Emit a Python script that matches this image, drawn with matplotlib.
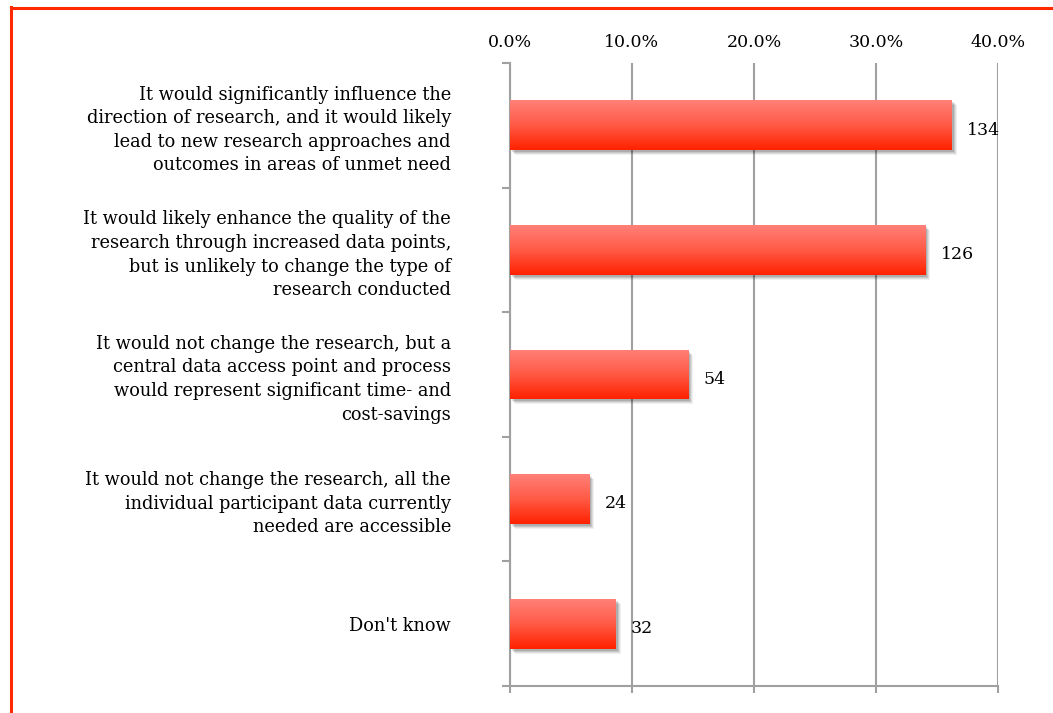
import numpy as np
import matplotlib
matplotlib.use("Agg")
import matplotlib.pyplot as plt
from matplotlib import transforms
from matplotlib.lines import Line2D
from matplotlib.colors import LinearSegmentedColormap

# Survey responses
categories = [
    "It would significantly influence the\ndirection of research, and it would likely\nlead to new research approaches and\noutcomes in areas of unmet need",
    "It would likely enhance the quality of the\nresearch through increased data points,\nbut is unlikely to change the type of\nresearch conducted",
    "It would not change the research, but a\ncentral data access point and process\nwould represent significant time- and\ncost-savings",
    "It would not change the research, all the\nindividual participant data currently\nneeded are accessible",
    "Don't know",
]
counts = [134, 126, 54, 24, 32]
x_ticks = [0, 10, 20, 30, 40]
x_tick_labels = ["0.0%", "10.0%", "20.0%", "30.0%", "40.0%"]

total = sum(counts)
shares = [c / total * 100 for c in counts]

FONT = "DejaVu Serif"
W, H = 1053, 713
fig = plt.figure(figsize=(W / 100, H / 100), dpi=100)
fig.patch.set_facecolor("white")

ax = fig.add_axes([510 / W, 1 - 686 / H, 488 / W, 623 / H])
ypos = np.arange(len(categories))
bar_h = 0.4

# soft shadow layers under each bar
for dx, dy, a in [(5, -5, 0.06), (4, -4, 0.08), (3, -3, 0.10), (2, -2, 0.12)]:
    off = transforms.offset_copy(ax.transData, fig=fig, x=dx, y=dy, units="dots")
    ax.barh(ypos, shares, height=bar_h, color="black", alpha=a, linewidth=0,
            transform=off, zorder=2)

bars = ax.barh(ypos, shares, height=bar_h, color="#ff3a1a", linewidth=0, zorder=3)

# vertical gradient fill clipped to each bar
cmap = LinearSegmentedColormap.from_list("bar", ["#ff8078", "#ff5a45", "#ff2200"])
grad = np.linspace(0, 1, 128).reshape(-1, 1)
for rect, y, s in zip(bars, ypos, shares):
    im = ax.imshow(grad, cmap=cmap, aspect="auto", origin="upper",
                   extent=(0, s, y + bar_h / 2, y - bar_h / 2), zorder=4,
                   interpolation="bilinear")
    im.set_clip_path(rect)

ax.set_xlim(0, 40)
ax.set_ylim(len(categories) - 0.5, -0.5)

# value labels
for y, s, c in zip(ypos, shares, counts):
    ax.annotate(str(c), xy=(s, y), xytext=(11, -3.5), textcoords="offset points",
                ha="left", va="center", fontsize=12.5, family=FONT, color="black",
                zorder=6)

# grid and axes styling
grid_c = "#a0a0a0"
ax.set_xticks(x_ticks)
ax.set_xticklabels(x_tick_labels, family=FONT, fontsize=12.5)
ax.xaxis.set_tick_params(labeltop=True, labelbottom=False, top=False, bottom=True,
                         direction="out", length=5, width=1.5, color=grid_c, pad=3.5)
ax.xaxis.grid(True, color=grid_c, linewidth=1.5, zorder=0)
ax.set_axisbelow(True)

ax.set_yticks(ypos)
ax.set_yticklabels(categories, family=FONT, fontsize=12.8, ha="right",
                   multialignment="right", linespacing=1.4)
ax.set_yticks(np.arange(-0.5, len(categories)), minor=True)
ax.yaxis.set_tick_params(which="major", length=0, pad=42.5)
ax.yaxis.set_tick_params(which="minor", length=6, width=1.5, color=grid_c,
                         direction="out")

for side in ("top", "right"):
    ax.spines[side].set_visible(False)
for side in ("left", "bottom"):
    ax.spines[side].set_color(grid_c)
    ax.spines[side].set_linewidth(1.5)
ax.set_facecolor("none")

# red frame on the left and top edges
red = "#ff2a00"
fig.add_artist(Line2D([10.5 / W, 10.5 / W], [0, 1 - 7 / H], transform=fig.transFigure,
                      color=red, linewidth=2.2))
fig.add_artist(Line2D([10.5 / W, 1], [1 - 7.5 / H, 1 - 7.5 / H], transform=fig.transFigure,
                      color=red, linewidth=2.2))

fig.savefig("out.png", dpi=100, facecolor="white")
